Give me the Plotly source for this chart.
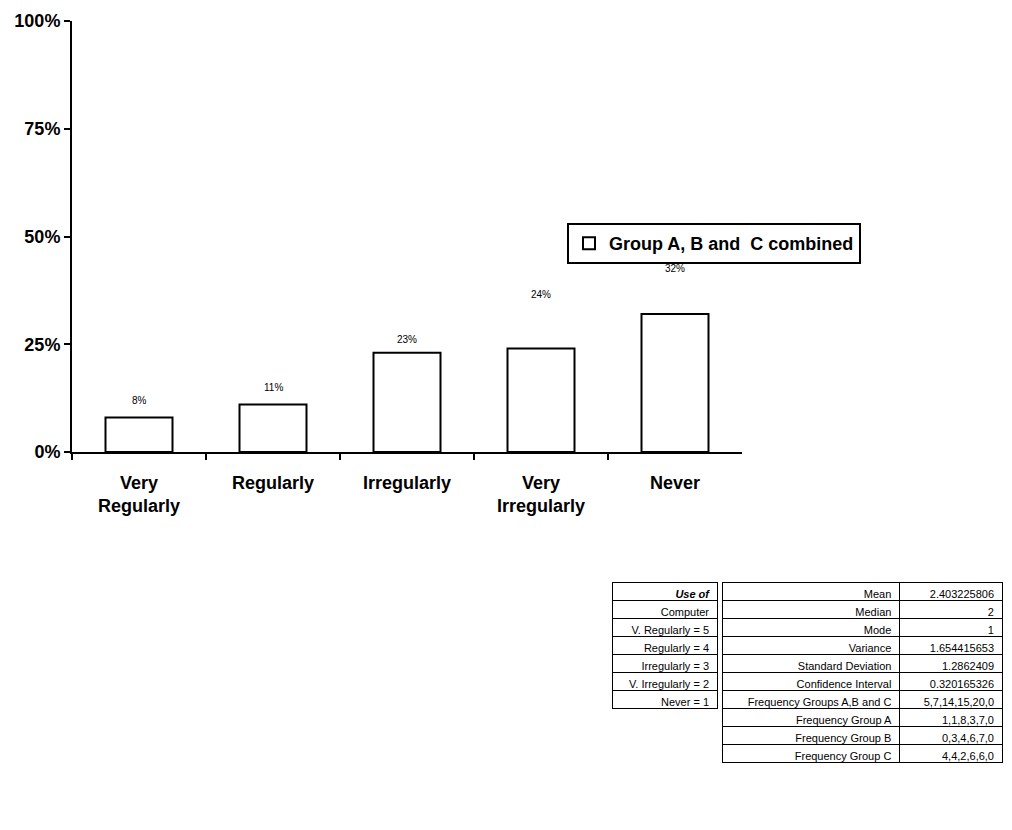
import plotly.graph_objects as go

# ---- data ----
categories = ["Very<br>Regularly", "Regularly", "Irregularly", "Very<br>Irregularly", "Never"]
percent = [8, 11, 23, 24, 32]
bar_labels = ["8%", "11%", "23%", "24%", "32%"]
label_heights = [12, 15, 26, 36.5, 42.5]
series_name = "Group A, B and &nbsp;C combined"

y_ticks = [0, 25, 50, 75, 100]

coding_header = "Use of"
coding_labels = ["Computer", "V. Regularly = 5", "Regularly = 4", "Irregularly = 3",
                 "V. Irregularly = 2", "Never = 1"]
stat_header = ["Mean", "2.403225806"]
stat_names = ["Median", "Mode", "Variance", "Standard Deviation", "Confidence Interval",
              "Frequency Groups A,B and C", "Frequency Group A", "Frequency Group B",
              "Frequency Group C"]
stat_values = ["2", "1", "1.654415653", "1.2862409", "0.320165326",
               "5,7,14,15,20,0", "1,1,8,3,7,0", "0,3,4,6,7,0", "4,4,2,6,6,0"]

# page body has an 8px margin, so the figure is drawn 8px in from the top-left
OFF = 8
W, H = 1012 - 2 * OFF, 830 - 2 * OFF
FONT = "Liberation Sans, Arial, sans-serif"


def px(x):
    return min(1.0, (x - OFF) / W)


def py(y):
    return 1 - (y - OFF) / H


fig = go.Figure()
fig.add_trace(go.Bar(
    x=categories, y=percent, name=series_name,
    marker=dict(color="white", line=dict(color="black", width=2)),
    showlegend=True,
))

for c, lab, hy in zip(categories, bar_labels, label_heights):
    fig.add_annotation(x=c, y=hy, text=lab, showarrow=False,
                       font=dict(family=FONT, size=10, color="black"),
                       xref="x", yref="y")

cell_h = 18
tbl_top = 582
tfont = dict(family=FONT, size=11, color="black")
fig.add_trace(go.Table(
    domain=dict(x=[px(612), px(718)], y=[py(tbl_top + 7 * cell_h + 4), py(tbl_top)]),
    columnwidth=[1],
    header=dict(values=[coding_header], align="right", height=cell_h,
                line=dict(color="black", width=1), fill=dict(color="white"),
                font=dict(family=FONT, size=11, color="black", weight="bold", style="italic")),
    cells=dict(values=[coding_labels], align="right", height=cell_h,
               line=dict(color="black", width=1), fill=dict(color="white"),
               font=tfont),
))
fig.add_trace(go.Table(
    domain=dict(x=[px(722), px(1003)], y=[py(tbl_top + 10 * cell_h + 4), py(tbl_top)]),
    columnwidth=[178, 103],
    header=dict(values=stat_header, align="right", height=cell_h,
                line=dict(color="black", width=1), fill=dict(color="white"),
                font=tfont),
    cells=dict(values=[stat_names, stat_values], align="right", height=cell_h,
               line=dict(color="black", width=1), fill=dict(color="white"),
               font=tfont),
))

fig.update_layout(
    width=W, height=H,
    margin=dict(l=0, r=0, t=0, b=0),
    paper_bgcolor="white", plot_bgcolor="white",
    bargap=0.5,
    font=dict(family=FONT, color="black"),
    xaxis=dict(domain=[px(72), px(742)], range=[-0.5, 4.5], automargin=False,
               showline=True, linecolor="black", linewidth=2,
               ticks="outside", tickson="boundaries", ticklen=6, tickwidth=2, tickcolor="black",
               tickfont=dict(family=FONT, size=18, color="black", weight="bold"),
               ticklabelstandoff=13, showgrid=False, zeroline=False),
    yaxis=dict(domain=[py(452), py(21)], range=[0, 100], automargin=False,
               tickvals=y_ticks, ticktext=[f"{v}%" for v in y_ticks],
               showline=True, linecolor="black", linewidth=2,
               ticks="outside", ticklen=6, tickwidth=2, tickcolor="black",
               tickfont=dict(family=FONT, size=18, color="black", weight="bold"),
               showgrid=False, zeroline=False),
    legend=dict(x=px(567), y=py(223), xanchor="left", yanchor="top",
                bordercolor="black", borderwidth=2, bgcolor="white",
                font=dict(family=FONT, size=18, color="black", weight="bold"),
                itemwidth=30, tracegroupgap=0),
)

fig.write_html("out.html")
